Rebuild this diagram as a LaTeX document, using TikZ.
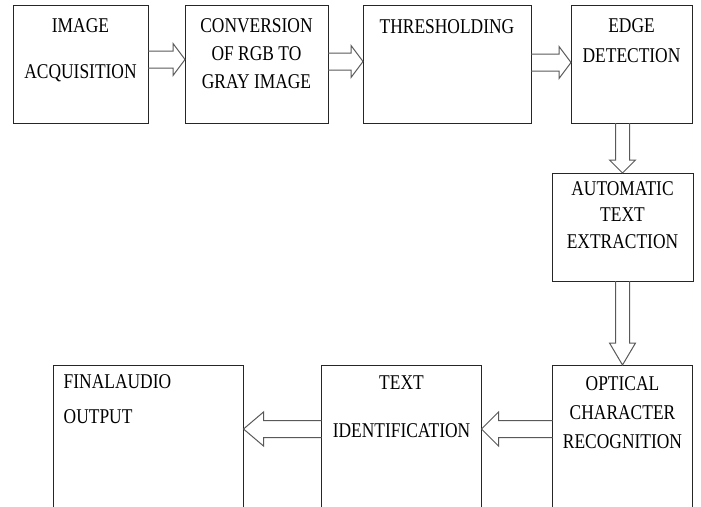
\documentclass[tikz,border=0pt]{standalone}
\usepackage{fontspec}
\setmainfont{Liberation Serif}[FakeStretch=0.83]
\usetikzlibrary{calc, positioning}
\tikzset{
    shaft/.store in=\shaftw, head/.store in=\headw, tip/.store in=\tiplen,
    shaft=8.5pt, head=16pt, tip=14pt,
}
\tikzstyle{box} = [draw=black!85, line width=1pt, rectangle, minimum height=118pt, inner sep=0pt, outer sep=0pt]
\tikzstyle{txt} = [font=\fontsize{21}{28}\selectfont, align=center, inner sep=0pt, anchor=north]
\tikzstyle{hollow} = [draw=black!65, line width=1pt, to path={
    ($(\tikztostart)!\shaftw!90:(\tikztotarget)$)
    -- ($(\tikztotarget)!\tiplen!(\tikztostart)!\shaftw!90:(\tikztotarget)$)
    -- ($(\tikztotarget)!\tiplen!(\tikztostart)!\headw!90:(\tikztotarget)$)
    -- (\tikztotarget)
    -- ($(\tikztotarget)!\tiplen!(\tikztostart)!\headw!-90:(\tikztotarget)$)
    -- ($(\tikztotarget)!\tiplen!(\tikztostart)!\shaftw!-90:(\tikztotarget)$)
    -- ($(\tikztostart)!\shaftw!-90:(\tikztotarget)$)}]

\begin{document}
\begin{tikzpicture}[x=1pt, y=-1pt]
    \useasboundingbox (0,0) rectangle (701,506);

    % Top row.
    \node (acq) [box, minimum width=135pt] at (80.5,64) {};
    \node (conv) [box, minimum width=143pt, right=37pt of acq] {};
    \node (thresh) [box, minimum width=168pt, right=35pt of conv] {};
    \node (edge) [box, minimum width=121pt, right=40pt of thresh] {};

    % Right column and bottom row.
    \node (ate) [box, minimum width=141pt, minimum height=108pt, below=50pt of edge, xshift=-9pt] {};
    \node (ocr) [box, minimum width=140pt, minimum height=155pt, below=84pt of ate] {};
    \node (textid) [box, minimum width=160pt, minimum height=155pt, left=71pt of ocr] {};
    \node (final) [box, minimum width=190pt, minimum height=155pt, left=78pt of textid] {};

    % Texts.
    \node (acqlabel) [txt] at ([yshift=-13pt]acq.north) {IMAGE\\[18pt]ACQUISITION};
    \node (convlabel) [txt] at ([yshift=-13pt]conv.north) {CONVERSION\\OF RGB TO\\GRAY IMAGE};
    \node (threshlabel) [txt] at ([yshift=-14pt]thresh.north) {THRESHOLDING};
    \node (edgelabel) [txt] at ([yshift=-13pt]edge.north) {EDGE\\[2pt]DETECTION};
    \node (atelabel) [txt] at ([yshift=-8pt]ate.north) {AUTOMATIC\\[-1.5pt]TEXT\\[-1.5pt]EXTRACTION};
    \node (ocrlabel) [txt] at ([yshift=-11pt]ocr.north) {OPTICAL\\[1pt]CHARACTER\\[1pt]RECOGNITION};
    \node (textidlabel) [txt] at ([yshift=-11pt]textid.north) {TEXT\\[20pt]IDENTIFICATION};
    \node (finallabel) [txt, anchor=north west, align=left] at ([xshift=10pt, yshift=-9pt]final.north west) {FINALAUDIO\\[7pt]OUTPUT};

    % Arrows.
    \draw [hollow, tip=12pt] ([yshift=4.5pt]acq.east) to ([yshift=4.5pt]conv.west);
    \draw [hollow, tip=12pt] ([yshift=2.5pt]conv.east) to ([yshift=2.5pt]thresh.west);
    \draw [hollow, tip=12pt] ([yshift=1.5pt]thresh.east) to ([yshift=1.5pt]edge.west);
    \draw [hollow, shaft=7pt, head=13pt, tip=13pt] (edge.south -| ate.north) to (ate.north);
    \draw [hollow, shaft=7pt, head=13pt, tip=22pt] (ate.south) to (ocr.north);
    \draw [hollow, head=17pt, tip=17pt] ([yshift=13.5pt]ocr.west) to ([yshift=13.5pt]textid.east);
    \draw [hollow, head=17pt, tip=20pt] ([yshift=13.5pt]textid.west) to ([yshift=13.5pt]final.east);
\end{tikzpicture}
\end{document}
